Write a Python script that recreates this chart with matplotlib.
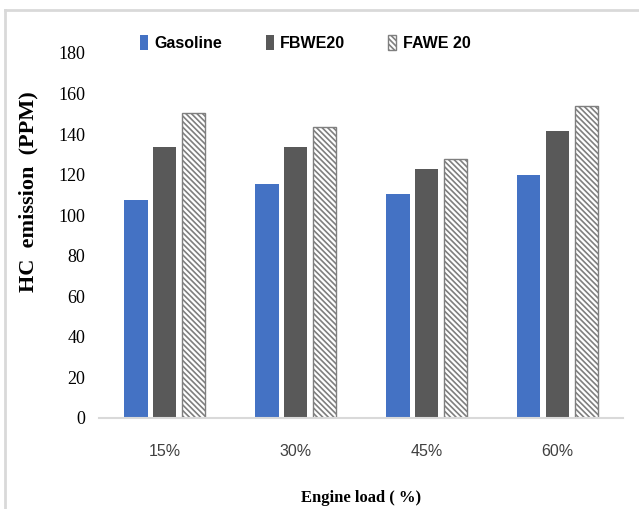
import numpy as np
import matplotlib.pyplot as plt
from matplotlib.lines import Line2D

# Podaci
loads = ['15%', '30%', '45%', '60%']
gasoline = [107.5, 115.5, 110.5, 120]
fbwe20 = [133.5, 133.5, 123, 141.5]
fawe20 = [150.5, 143.5, 127.5, 154]
yticks = [0, 20, 40, 60, 80, 100, 120, 140, 160, 180]

plt.rcParams['hatch.color'] = '#595959'
plt.rcParams['hatch.linewidth'] = 1.2

fig = plt.figure(figsize=(6.39, 5.09), dpi=100)
ax = fig.add_axes([0.155, 0.179, 0.82, 0.717])

x = np.arange(len(loads))
w = 0.18
off = 0.22
ax.bar(x - off, gasoline, w, color='#4472C4', label='Gasoline')
ax.bar(x, fbwe20, w, color='#595959', label='FBWE20')
ax.bar(x + off, fawe20, w, color='white', edgecolor='#7F7F7F', hatch='\\\\\\\\\\\\',
       linewidth=1.0, label='FAWE 20')

ax.set_xlim(-0.5, len(loads) - 0.5)
ax.set_ylim(0, 180)
ax.set_yticks(yticks)
ax.set_xticks(x)
ax.set_xticklabels(loads, fontsize=11.5, family='Liberation Sans', color='#404040')
ax.set_yticklabels([str(v) for v in yticks], fontsize=13, family='Liberation Serif')
ax.tick_params(length=0, axis='x', pad=19)
ax.tick_params(length=0, axis='y', pad=10)

for s in ['top', 'right', 'left']:
    ax.spines[s].set_visible(False)
ax.spines['bottom'].set_color('#D9D9D9')
ax.spines['bottom'].set_linewidth(1.5)

ax.set_ylabel('HC  emission  (PPM)', fontsize=16, fontweight='bold',
              family='Liberation Serif')
ax.yaxis.set_label_coords(-0.115, 0.62)
ax.set_xlabel('Engine load ( %)', fontsize=12, fontweight='bold',
              family='Liberation Serif', labelpad=22)

leg = ax.legend(loc='center', bbox_to_anchor=(0.394, 1.027), ncol=3, frameon=False,
                prop={'family': 'Liberation Sans', 'weight': 'bold', 'size': 11.5},
                handlelength=0.5, handleheight=1.0, handletextpad=0.4, columnspacing=2.7)

# okvir
fig.add_artist(Line2D([0.008, 1.0], [0.98, 0.98], color='#D9D9D9', lw=2))
fig.add_artist(Line2D([0.008, 0.008], [0.0, 0.98], color='#D9D9D9', lw=2))

fig.savefig('out.png', dpi=100)
